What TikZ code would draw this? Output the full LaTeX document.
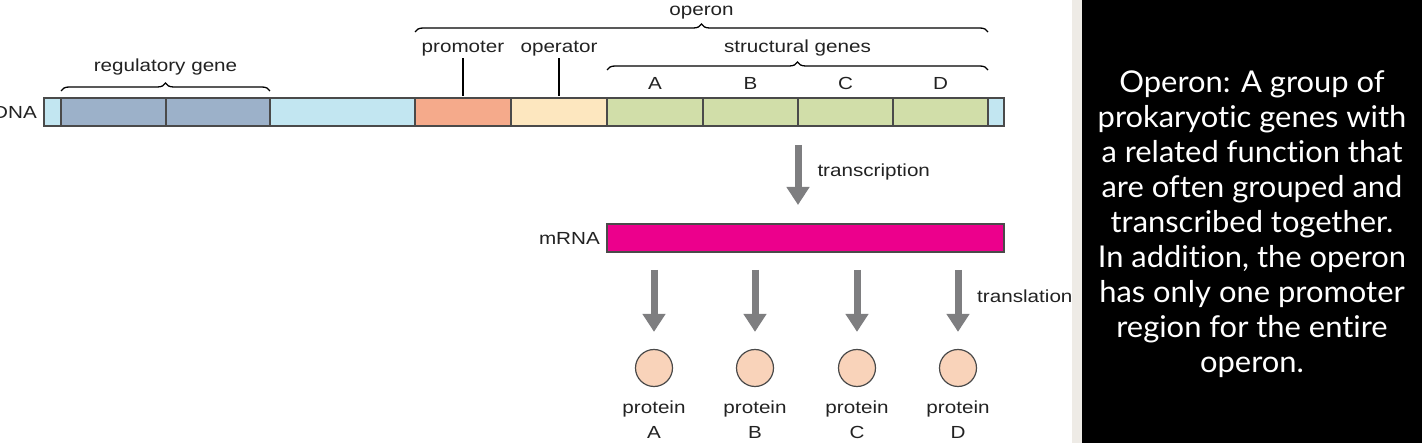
\documentclass[tikz,border=0pt]{standalone}
\usepackage{fontspec}
\setmainfont{Liberation Sans}[FakeStretch=1.18]
\newfontfamily\notefont{Lato}[Ligatures={NoCommon}, FakeStretch=1.03]
\usepackage{tikz}
\usetikzlibrary{arrows.meta, positioning, decorations.pathreplacing}
\definecolor{dnablue}{HTML}{C2E6F1}
\definecolor{regblue}{HTML}{9CB1C9}
\definecolor{promsalmon}{HTML}{F5AA8B}
\definecolor{opercream}{HTML}{FDE7BF}
\definecolor{genegreen}{HTML}{D1DEA9}
\definecolor{mrnapink}{HTML}{EC008C}
\definecolor{protfill}{HTML}{F9D3BA}
\definecolor{arrowgray}{HTML}{7E7E80}
\definecolor{segline}{HTML}{4A4A4A}
\definecolor{labeltext}{HTML}{222222}
\definecolor{stripgray}{HTML}{EEEBE6}
\tikzstyle{seg} = [rectangle, draw=segline, line width=1.2pt, minimum height=28pt, inner sep=0pt, outer sep=0pt]
\tikzstyle{txt} = [text=labeltext, font=\fontsize{17.5}{25}\selectfont, inner sep=0pt]
\tikzstyle{gbrace} = [decorate, decoration={brace, amplitude=8pt}, line width=1.3pt, draw=black]
\tikzstyle{tick} = [line width=1.6pt, draw=black]
\tikzstyle{bigarrow} = [draw=arrowgray, line width=7pt, -{Triangle[width=22pt,length=18pt]}]
\tikzstyle{protein} = [circle, draw=segline, fill=protfill, line width=1.2pt, minimum size=37pt, inner sep=0pt]

\begin{document}
\begin{tikzpicture}[x=1pt, y=-1pt]
\useasboundingbox (0,0) rectangle (1422,443);

% side panel
\fill[stripgray] (1072,0) rectangle (1082,443);
\fill[black] (1082,0) rectangle (1422,443);

% DNA strand
\node (lflank) [seg, fill=dnablue, minimum width=17pt, anchor=west] at (44,112) {};
\node (reg1) [seg, fill=regblue, minimum width=105pt, right=0pt of lflank] {};
\node (reg2) [seg, fill=regblue, minimum width=104pt, right=0pt of reg1] {};
\node (spacer) [seg, fill=dnablue, minimum width=145pt, right=0pt of reg2] {};
\node (prom) [seg, fill=promsalmon, minimum width=96pt, right=0pt of spacer] {};
\node (oper) [seg, fill=opercream, minimum width=96pt, right=0pt of prom] {};
\node (geneA) [seg, fill=genegreen, minimum width=96pt, right=0pt of oper] {};
\node (geneB) [seg, fill=genegreen, minimum width=95pt, right=0pt of geneA] {};
\node (geneC) [seg, fill=genegreen, minimum width=95pt, right=0pt of geneB] {};
\node (geneD) [seg, fill=genegreen, minimum width=95pt, right=0pt of geneC] {};
\node (rflank) [seg, fill=dnablue, minimum width=16pt, right=0pt of geneD] {};
\node (dnalbl) [txt, left=7pt of lflank] {DNA};

\foreach \g in {A,B,C,D}
  \node [txt, above=8pt of gene\g] {\g};

% promoter and operator marks
\node (promlbl) [txt, anchor=base] at ([yshift=45pt]prom.north) {promoter};
\node (operlbl) [txt, anchor=base] at ([yshift=45pt]oper.north) {operator};
\draw [tick] ([yshift=2pt]prom.north) -- ([yshift=40pt]prom.north);
\draw [tick] ([yshift=2pt]oper.north) -- ([yshift=40pt]oper.north);

% braces
\draw [gbrace] ([yshift=7pt]reg1.north west) -- node[txt, midway, anchor=base, yshift=19pt] {regulatory gene} ([yshift=7pt]reg2.north east);
\draw [gbrace] ([yshift=28pt]geneA.north west) -- node[txt, midway, anchor=base, yshift=17pt] {structural genes} ([yshift=28pt]geneD.north east);
\draw [gbrace] ([yshift=66pt]prom.north west) -- node[txt, midway, anchor=base, yshift=16pt] {operon} ([yshift=66pt]geneD.north east);

% mRNA
\node (mrna) [seg, fill=mrnapink, minimum width=397pt, below=98pt of geneA.south west, anchor=north west] {};
\node (mrnalbl) [txt, left=7pt of mrna] {mRNA};
\draw [bigarrow] ([yshift=-19pt]geneB.south east) -- node[txt, midway, anchor=base west, xshift=16pt, yshift=-2pt] {transcription} ([yshift=19pt]geneB.south east |- mrna.north);

% proteins
\foreach \g/\dx in {A/47,B/148,C/250,D/351} {
  \node (prot\g) [protein] at ([xshift=\dx pt, yshift=-116pt]mrna.south west) {};
  \draw [bigarrow] ([yshift=-18pt]prot\g |- mrna.south) -- ([yshift=17pt]prot\g.north);
  \node [txt, align=center, below=14pt of prot\g] {protein\\\g};
}
\node (translbl) [txt, anchor=base west] at ([xshift=19pt, yshift=-51pt]mrna.south -| protD) {translation};

% note
\node (note) [text=white, font=\notefont\fontsize{30}{35.1}\selectfont, align=center, inner sep=0pt, anchor=north] at (1252,70) {Operon: A group of\\prokaryotic genes with\\a related function that\\are often grouped and\\transcribed together.\\In addition, the operon\\has only one promoter\\region for the entire\\operon.};
\end{tikzpicture}
\end{document}
